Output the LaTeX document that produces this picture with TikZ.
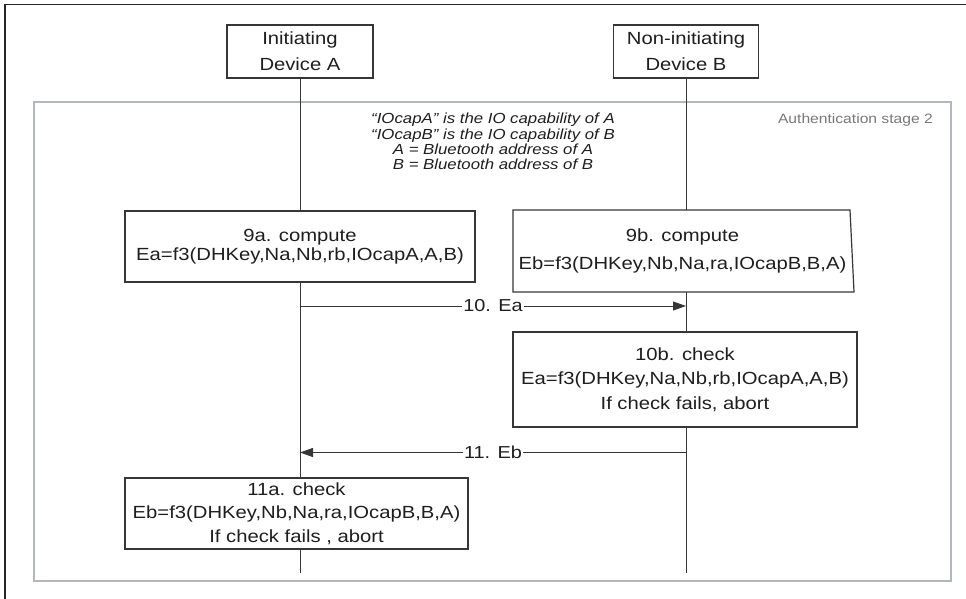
\documentclass[tikz,border=0pt]{standalone}
\usepackage{fontspec}
\setmainfont{Liberation Sans}[FakeStretch=1.15]
\usetikzlibrary{arrows.meta}
\definecolor{ink}{HTML}{1E1E1E}
\definecolor{rule}{HTML}{363636}
\definecolor{stage}{HTML}{B3B7BE}
\definecolor{stagetext}{HTML}{787878}

\begin{document}
\begin{tikzpicture}[x=1pt,y=-1pt,
  box/.style={draw=rule, line width=1.2pt, fill=white, inner sep=0pt, text=ink, align=center},
  life/.style={draw=rule, line width=1pt},
  msg/.style={draw=rule, line width=1pt, -{Triangle[length=13pt,width=9pt]}},
  msglabel/.style={fill=white, inner sep=1.5pt, text=ink, font=\fontsize{17.3}{20}\selectfont},
  note/.style={text=ink, align=center, inner sep=0pt, font=\fontsize{14.6}{15.2}\selectfont\itshape},
]
\useasboundingbox (0,0) rectangle (966,599);

% outer page frame (top and left rules)
\draw[line width=1.4pt, black!85] (966,4.5) -- (5,4.5) -- (5,599);

% authentication stage frame
\draw[stage, line width=2.2pt] (34,102) rectangle (951,581);
\node[anchor=east, text=stagetext, inner sep=0pt, font=\fontsize{13.6}{16}\selectfont] (stagelbl) at (933,120) {Authentication stage 2};

% device headers
\node[box, minimum width=146pt, minimum height=53pt, font=\fontsize{17.6}{26}\selectfont] (devA) at (300,51.5) {Initiating\\Device A};
\node[box, minimum width=145pt, minimum height=53pt, font=\fontsize{17.6}{26}\selectfont] (devB) at (686,51.5) {Non-initiating\\Device B};

% lifelines
\coordinate (endA) at (300,573);
\coordinate (endB) at (686,573);
\draw[life] (devA.south) -- (endA);
\draw[life] (devB.south) -- (endB);

% definitions
\node[note] (defs) at (493,141.5) {``IOcapA'' is the IO capability of A\\``IOcapB'' is the IO capability of B\\A = Bluetooth address of A\\B = Bluetooth address of B};

% step 9
\node[box, minimum width=350pt, minimum height=71pt, font=\fontsize{17.6}{19}\selectfont] (c9a) at (300,246.5) {9a. compute\\Ea=f3(DHKey,Na,Nb,rb,IOcapA,A,B)};
\fill[white] (513,210) -- (850,210) -- (854,292) -- (513,292) -- cycle;
\draw[rule, line width=1.2pt] (513,210) -- (850,210) -- (854,292) -- (513,292) -- cycle;
\node[text=ink, align=center, inner sep=0pt, font=\fontsize{17.6}{28}\selectfont] (c9b) at (682.5,250.5) {9b. compute\\Eb=f3(DHKey,Nb,Na,ra,IOcapB,B,A)};

% step 10
\coordinate (s10A) at (300,306);
\coordinate (s10B) at (686,306);
\draw[msg] (s10A) -- node[msglabel] (m10) {10. Ea} (s10B);
\node[box, minimum width=344pt, minimum height=95pt, font=\fontsize{17.6}{24.5}\selectfont] (c10b) at (685,379.5) {10b. check\\Ea=f3(DHKey,Na,Nb,rb,IOcapA,A,B)\\If check fails, abort};

% step 11
\coordinate (s11A) at (300,452.5);
\coordinate (s11B) at (686,452.5);
\draw[msg] (s11B) -- node[msglabel] (m11) {11. Eb} (s11A);
\node[box, minimum width=343pt, minimum height=71pt, font=\fontsize{17.6}{23.5}\selectfont] (c11a) at (296.5,513.5) {11a. check\\Eb=f3(DHKey,Nb,Na,ra,IOcapB,B,A)\\If check fails , abort};
\end{tikzpicture}
\end{document}
